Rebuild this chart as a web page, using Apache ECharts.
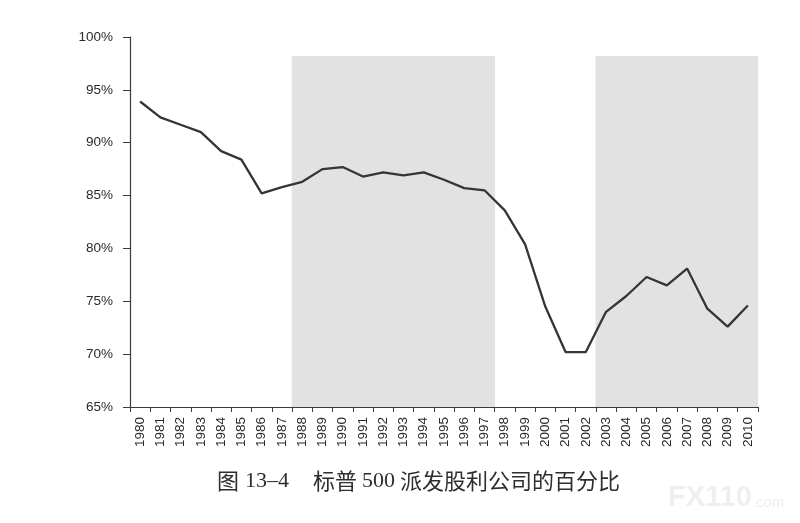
<!DOCTYPE html>
<html>
<head>
<meta charset="utf-8">
<title>标普500派发股利公司的百分比</title>
<script src="https://cdn.jsdelivr.net/npm/echarts@6/dist/echarts.min.js"></script>
<style>
  html, body { margin: 0; padding: 0; background: #fff; }
  #chart { width: 800px; height: 523px; }
</style>
</head>
<body>
<div id="chart"></div>
<script>
// Years on the category axis
const years = ['1980', '1981', '1982', '1983', '1984', '1985', '1986', '1987', '1988', '1989',
  '1990', '1991', '1992', '1993', '1994', '1995', '1996', '1997', '1998', '1999',
  '2000', '2001', '2002', '2003', '2004', '2005', '2006', '2007', '2008', '2009', '2010']

// Percent of S&P 500 companies paying dividends
const payerShare = [93.9, 92.4, 91.7, 91.0, 89.2, 88.4, 85.2, 85.8, 86.3, 87.5,
  87.7, 86.8, 87.2, 86.9, 87.2, 86.5, 85.7, 85.5, 83.6, 80.4,
  74.5, 70.2, 70.2, 74.0, 75.5, 77.3, 76.5, 78.1, 74.3, 72.6, 74.6]

// Grey shaded periods (first year, last year) and the height they reach
const shadedPeriods = [['1988', '1997'], ['2003', '2010']]
const shadeTop = 98.2

const yTicks = { min: 65, max: 100, step: 5 }

// One bar per shaded year, so the grey bands follow the category axis
const shadeData = years.map(y => {
  const inside = shadedPeriods.some(([a, b]) => y >= a && y <= b)
  return inside ? shadeTop : null
})

const serif = '"Liberation Serif", "Times New Roman", serif'
const cjk = '"Noto Sans CJK SC", sans-serif'
const sans = '"Liberation Sans", Arial, sans-serif'

// caption pieces: [text, left, font size, font]
const caption = [
  ['图', 217, 22, cjk],
  ['13–4', 245, 22, serif],
  ['标普', 313, 22, cjk],
  ['500', 362, 22, serif],
  ['派发股利公司的百分比', 400, 22, cjk]
]

const chart = echarts.init(document.getElementById('chart'))

chart.setOption({
  animation: false,
  backgroundColor: '#ffffff',
  grid: { left: 130, right: 42, top: 37, bottom: 116 },
  xAxis: {
    type: 'category',
    data: years,
    boundaryGap: true,
    z: 5,
    axisLine: { lineStyle: { color: '#3a3a3a', width: 1.2 } },
    axisTick: { show: true, alignWithLabel: false, interval: 0, length: 5, lineStyle: { color: '#3a3a3a' } },
    axisLabel: {
      interval: 0,
      rotate: 90,
      margin: 10,
      fontSize: 13.5,
      color: '#2a2a2a',
      fontFamily: sans
    },
    splitLine: { show: false }
  },
  yAxis: {
    type: 'value',
    min: yTicks.min,
    max: yTicks.max,
    interval: yTicks.step,
    z: 5,
    axisLine: { show: true, lineStyle: { color: '#3a3a3a', width: 1.2 } },
    axisTick: { show: true, inside: false, length: 7, lineStyle: { color: '#3a3a3a' } },
    axisLabel: {
      formatter: '{value}%',
      margin: 17,
      fontSize: 13.5,
      color: '#2a2a2a',
      fontFamily: sans
    },
    splitLine: { show: false }
  },
  series: [
    {
      name: 'shade',
      type: 'bar',
      data: shadeData,
      // slightly wider than the band so neighbouring bars overlap and leave no seams
      barWidth: '104%',
      silent: true,
      z: 1,
      itemStyle: { color: '#e2e2e2' }
    },
    {
      name: '派发股利公司占比',
      type: 'line',
      data: payerShare,
      symbol: 'none',
      z: 3,
      lineStyle: { color: '#353535', width: 2.3 }
    }
  ],
  graphic: caption.map(([text, left, size, font]) => ({
    type: 'text',
    x: left,
    y: 481,
    style: {
      text: text,
      fontSize: size,
      fill: '#2e2e2e',
      fontFamily: font,
      verticalAlign: 'middle'
    }
  })).concat([
    {
      type: 'text',
      x: 668,
      y: 498,
      silent: true,
      style: {
        text: '{a|FX110}{b|.com}',
        verticalAlign: 'middle',
        rich: {
          a: { fontSize: 29, fontWeight: 'bold', fill: '#efefef', fontFamily: sans },
          b: { fontSize: 15, fill: '#efefef', fontFamily: sans, padding: [10, 0, 0, 0] }
        }
      }
    }
  ])
})
</script>
</body>
</html>
